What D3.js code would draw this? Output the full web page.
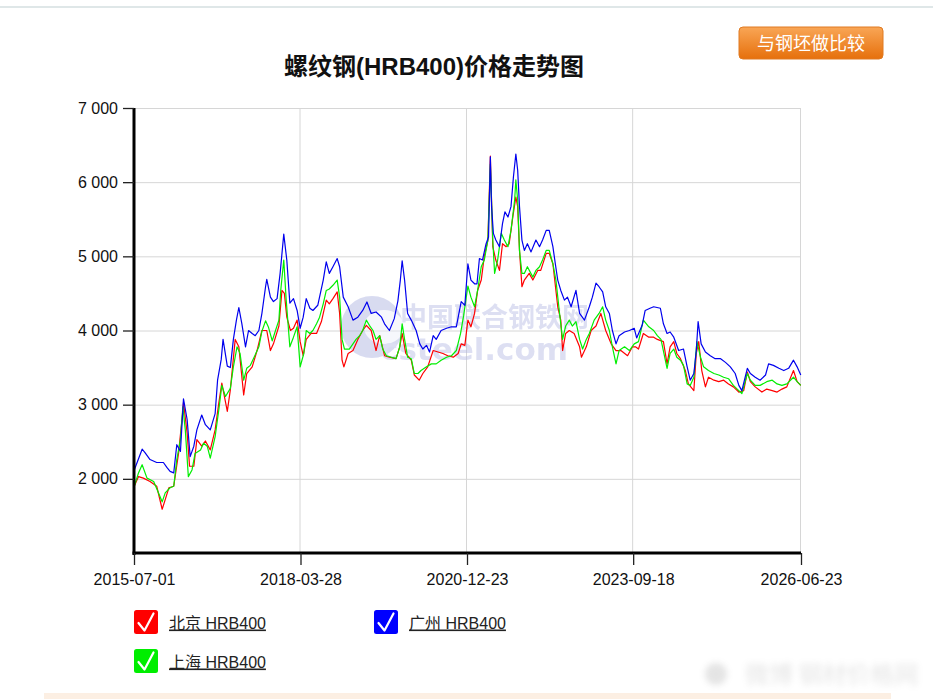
<!DOCTYPE html>
<html>
<head>
<meta charset="utf-8">
<script src="https://cdn.jsdelivr.net/npm/d3@7"></script>
<style>
  body { margin: 0; background: #fff; }
  svg text { font-family: "Liberation Sans", Arial, "Noto Sans CJK SC", sans-serif; }
</style>
</head>
<body>
<div id="chart"></div>
<script>
// ---- data (decimal year, price) ----
var beijing = [[2015.50,1900],[2015.57,2030],[2015.65,2010],[2015.76,1965],[2015.87,1900],[2015.96,1590],[2016.01,1720],[2016.07,1880],[2016.15,1900],[2016.23,2350],[2016.29,2840],[2016.31,3030],[2016.37,2620],[2016.41,2170],[2016.48,2170],[2016.53,2530],[2016.61,2440],[2016.67,2510],[2016.75,2390],[2016.83,2660],[2016.89,3020],[2016.94,3290],[2017.03,2910],[2017.08,3200],[2017.16,3880],[2017.22,3780],[2017.30,3130],[2017.35,3420],[2017.44,3510],[2017.52,3730],[2017.60,4000],[2017.68,4000],[2017.74,3730],[2017.79,3820],[2017.88,4060],[2017.93,4540],[2017.97,4500],[2018.01,4180],[2018.07,4000],[2018.12,4030],[2018.18,4140],[2018.23,3850],[2018.28,3660],[2018.33,3880],[2018.41,3960],[2018.50,3960],[2018.58,4120],[2018.66,4410],[2018.71,4360],[2018.77,4430],[2018.84,4520],[2018.88,4230],[2018.92,3600],[2018.95,3510],[2019.02,3690],[2019.10,3730],[2019.18,3880],[2019.26,4000],[2019.32,4070],[2019.40,4000],[2019.48,3730],[2019.54,3930],[2019.62,3660],[2019.70,3640],[2019.81,3620],[2019.87,3780],[2019.91,3960],[2019.97,3690],[2020.06,3600],[2020.11,3400],[2020.19,3330],[2020.25,3420],[2020.33,3510],[2020.42,3730],[2020.50,3710],[2020.58,3690],[2020.66,3660],[2020.75,3640],[2020.83,3690],[2020.88,3820],[2020.94,3800],[2020.99,4140],[2021.04,4050],[2021.10,4230],[2021.15,4540],[2021.21,4680],[2021.26,5000],[2021.32,5220],[2021.36,6350],[2021.40,5130],[2021.45,4950],[2021.51,4810],[2021.56,5170],[2021.62,5130],[2021.67,5170],[2021.73,5530],[2021.78,5800],[2021.81,5670],[2021.84,5080],[2021.88,4590],[2021.92,4680],[2022.00,4770],[2022.06,4680],[2022.14,4810],[2022.19,4810],[2022.28,5040],[2022.33,5040],[2022.39,4900],[2022.47,4320],[2022.52,4140],[2022.55,3730],[2022.60,3960],[2022.66,4000],[2022.74,3960],[2022.83,3780],[2022.86,3640],[2022.94,3780],[2023.02,4000],[2023.10,4060],[2023.18,4230],[2023.26,4000],[2023.35,3820],[2023.43,3730],[2023.51,3730],[2023.62,3660],[2023.70,3780],[2023.75,3780],[2023.80,3750],[2023.88,3960],[2023.97,3910],[2024.05,3910],[2024.11,3880],[2024.21,3850],[2024.27,3550],[2024.32,3780],[2024.38,3850],[2024.43,3690],[2024.49,3620],[2024.57,3460],[2024.62,3280],[2024.71,3190],[2024.75,3690],[2024.79,3850],[2024.84,3460],[2024.90,3240],[2024.95,3370],[2025.04,3330],[2025.12,3310],[2025.20,3330],[2025.28,3280],[2025.36,3240],[2025.45,3170],[2025.53,3190],[2025.59,3440],[2025.64,3310],[2025.72,3240],[2025.83,3170],[2025.91,3210],[2026.00,3190],[2026.08,3170],[2026.16,3210],[2026.24,3240],[2026.35,3460],[2026.41,3310],[2026.47,3260]];

var shanghai = [[2015.50,1900],[2015.57,2080],[2015.63,2190],[2015.71,2010],[2015.82,1965],[2015.90,1810],[2015.96,1690],[2016.01,1810],[2016.09,1880],[2016.15,1900],[2016.20,2260],[2016.26,2530],[2016.30,2970],[2016.34,2660],[2016.39,2030],[2016.45,2120],[2016.50,2340],[2016.59,2390],[2016.64,2480],[2016.70,2440],[2016.75,2280],[2016.83,2570],[2016.89,2930],[2016.94,3260],[2017.00,3110],[2017.08,3220],[2017.13,3510],[2017.19,3780],[2017.24,3690],[2017.30,3330],[2017.35,3490],[2017.41,3530],[2017.46,3620],[2017.55,3780],[2017.60,3990],[2017.66,4130],[2017.71,4040],[2017.77,3860],[2017.82,3990],[2017.88,4140],[2017.91,4540],[2017.96,4950],[2018.00,4410],[2018.06,3780],[2018.12,3910],[2018.18,4050],[2018.23,3510],[2018.29,3690],[2018.33,4000],[2018.39,3960],[2018.44,4000],[2018.50,4090],[2018.55,4180],[2018.61,4360],[2018.66,4540],[2018.71,4560],[2018.77,4610],[2018.84,4680],[2018.88,4450],[2018.92,3880],[2018.96,3750],[2019.04,3750],[2019.10,3820],[2019.15,3880],[2019.21,3930],[2019.26,4000],[2019.32,4140],[2019.37,4070],[2019.43,4000],[2019.48,3880],[2019.54,3930],[2019.59,3750],[2019.65,3660],[2019.73,3640],[2019.81,3620],[2019.87,3780],[2019.91,4090],[2019.95,3880],[2020.00,3640],[2020.06,3620],[2020.11,3420],[2020.17,3420],[2020.22,3460],[2020.31,3510],[2020.39,3550],[2020.47,3550],[2020.55,3600],[2020.64,3640],[2020.72,3660],[2020.80,3730],[2020.87,3960],[2020.92,4200],[2020.99,4600],[2021.04,4450],[2021.10,4320],[2021.15,4540],[2021.21,4860],[2021.26,4950],[2021.32,5220],[2021.36,6240],[2021.40,5220],[2021.43,4770],[2021.48,4950],[2021.54,5310],[2021.59,5220],[2021.65,5130],[2021.70,5350],[2021.76,5760],[2021.78,6030],[2021.81,5760],[2021.84,5080],[2021.88,4770],[2021.92,4770],[2021.97,4860],[2022.06,4720],[2022.11,4810],[2022.17,4860],[2022.22,4950],[2022.28,5080],[2022.33,5080],[2022.39,4900],[2022.44,4680],[2022.50,4230],[2022.55,3880],[2022.60,4060],[2022.66,4140],[2022.71,4060],[2022.77,4120],[2022.83,3880],[2022.88,3750],[2022.94,3880],[2022.99,3960],[2023.07,4140],[2023.15,4230],[2023.21,4320],[2023.26,4140],[2023.32,4000],[2023.37,3780],[2023.43,3550],[2023.48,3730],[2023.57,3780],[2023.65,3730],[2023.73,3820],[2023.80,3850],[2023.88,4140],[2023.97,4050],[2024.05,4000],[2024.11,3930],[2024.17,3880],[2024.27,3490],[2024.32,3690],[2024.38,3750],[2024.43,3640],[2024.49,3600],[2024.54,3530],[2024.60,3280],[2024.65,3260],[2024.71,3370],[2024.76,3850],[2024.82,3640],[2024.87,3510],[2024.95,3460],[2025.04,3420],[2025.12,3400],[2025.20,3370],[2025.28,3350],[2025.36,3260],[2025.45,3190],[2025.50,3150],[2025.59,3420],[2025.64,3330],[2025.72,3260],[2025.80,3260],[2025.91,3310],[2026.00,3330],[2026.08,3280],[2026.16,3260],[2026.24,3280],[2026.35,3370],[2026.41,3310],[2026.47,3260]];

var guangzhou = [[2015.50,2120],[2015.63,2400],[2015.68,2350],[2015.76,2260],[2015.87,2220],[2015.98,2220],[2016.04,2150],[2016.09,2100],[2016.15,2080],[2016.20,2460],[2016.26,2370],[2016.31,3080],[2016.37,2800],[2016.42,2300],[2016.48,2440],[2016.53,2660],[2016.61,2860],[2016.67,2730],[2016.75,2660],[2016.83,2880],[2016.87,3330],[2016.93,3610],[2016.96,3880],[2017.03,3520],[2017.08,3500],[2017.13,3880],[2017.18,4140],[2017.22,4310],[2017.27,4090],[2017.33,3780],[2017.38,4000],[2017.44,3960],[2017.49,3930],[2017.55,4000],[2017.60,4230],[2017.66,4590],[2017.68,4690],[2017.74,4450],[2017.79,4390],[2017.85,4430],[2017.90,4770],[2017.96,5300],[2018.01,4950],[2018.06,4370],[2018.12,4430],[2018.18,4270],[2018.23,4030],[2018.28,4180],[2018.33,4430],[2018.39,4300],[2018.44,4270],[2018.52,4340],[2018.61,4680],[2018.66,4925],[2018.71,4770],[2018.77,4860],[2018.84,4970],[2018.88,4860],[2018.94,4450],[2019.02,4320],[2019.10,4140],[2019.18,4180],[2019.26,4270],[2019.33,4385],[2019.40,4230],[2019.48,4250],[2019.57,4180],[2019.62,4090],[2019.70,4000],[2019.78,4160],[2019.84,4400],[2019.88,4680],[2019.91,4940],[2019.95,4680],[2020.00,4230],[2020.06,4140],[2020.14,4000],[2020.20,3820],[2020.25,3750],[2020.31,3800],[2020.36,3710],[2020.42,3930],[2020.47,3880],[2020.55,4000],[2020.64,4030],[2020.72,4050],[2020.80,4050],[2020.88,4390],[2020.94,4340],[2020.99,4900],[2021.04,4680],[2021.10,4630],[2021.14,4630],[2021.18,4970],[2021.23,4950],[2021.29,5170],[2021.33,5260],[2021.36,6340],[2021.38,5670],[2021.41,5310],[2021.45,5220],[2021.51,5130],[2021.56,5440],[2021.60,5600],[2021.65,5530],[2021.70,5670],[2021.74,6070],[2021.78,6380],[2021.81,6160],[2021.84,5670],[2021.88,5220],[2021.92,5080],[2021.97,5170],[2022.03,5060],[2022.11,5220],[2022.17,5130],[2022.22,5220],[2022.28,5350],[2022.33,5350],[2022.39,5130],[2022.43,4900],[2022.47,4680],[2022.52,4540],[2022.58,4410],[2022.63,4450],[2022.69,4320],[2022.77,4540],[2022.83,4230],[2022.91,4140],[2022.99,4320],[2023.04,4450],[2023.10,4640],[2023.15,4590],[2023.21,4520],[2023.26,4320],[2023.32,4230],[2023.37,4000],[2023.43,3820],[2023.48,3930],[2023.57,3980],[2023.65,4000],[2023.73,4030],[2023.77,3900],[2023.86,4070],[2023.91,4270],[2023.99,4300],[2024.05,4320],[2024.16,4300],[2024.21,4090],[2024.27,3960],[2024.32,3980],[2024.38,3910],[2024.46,3730],[2024.54,3750],[2024.60,3510],[2024.65,3330],[2024.71,3420],[2024.75,3730],[2024.78,4120],[2024.83,3820],[2024.90,3710],[2024.98,3660],[2025.06,3620],[2025.15,3620],[2025.23,3570],[2025.31,3510],[2025.39,3420],[2025.45,3260],[2025.50,3190],[2025.59,3490],[2025.64,3420],[2025.72,3370],[2025.80,3330],[2025.89,3400],[2025.94,3550],[2026.02,3530],[2026.11,3490],[2026.19,3460],[2026.27,3490],[2026.35,3600],[2026.41,3510],[2026.47,3400]];

var xTickLabels = ["2015-07-01", "2018-03-28", "2020-12-23", "2023-09-18", "2026-06-23"];
var yTicks = [2000, 3000, 4000, 5000, 6000, 7000];
var seriesNames = ["北京 HRB400", "广州 HRB400", "上海 HRB400"];
var seriesColors = ["#ff0000", "#0000ff", "#00ee00"];

// ---- helpers ----
function toDate(y) {
  var yr = Math.floor(y);
  var a = Date.UTC(yr, 0, 1), b = Date.UTC(yr + 1, 0, 1);
  return new Date(a + (y - yr) * (b - a));
}
var parseDay = d3.utcParse("%Y-%m-%d");
var tickDates = xTickLabels.map(parseDay);

var svgWidth = 933, svgHeight = 699;
var margin = {top: 108, right: 132, bottom: 146, left: 134};
var width = svgWidth - margin.left - margin.right;   // 667
var height = svgHeight - margin.top - margin.bottom; // 445

var svg = d3.select("#chart").append("svg")
  .attr("width", svgWidth)
  .attr("height", svgHeight);

var defs = svg.append("defs");
var grad = defs.append("linearGradient").attr("id", "btnGrad")
  .attr("x1", 0).attr("y1", 0).attr("x2", 0).attr("y2", 1);
grad.append("stop").attr("offset", "0%").attr("stop-color", "#f9a656");
grad.append("stop").attr("offset", "100%").attr("stop-color", "#e6700c");
defs.append("filter").attr("id", "blur").append("feGaussianBlur").attr("stdDeviation", 3);

// top rule + bottom band
svg.append("rect").attr("x", 0).attr("y", 6).attr("width", svgWidth).attr("height", 2).attr("fill", "#dfe7e8");
svg.append("rect").attr("x", 44).attr("y", 693).attr("width", 847).attr("height", 6).attr("fill", "#fcefe3");

// title
svg.append("text")
  .attr("x", 434).attr("y", 75)
  .attr("text-anchor", "middle")
  .style("font-size", "24px").style("font-weight", "bold").attr("fill", "#111")
  .text("螺纹钢(HRB400)价格走势图");

// button
svg.append("rect").attr("x", 739).attr("y", 27).attr("width", 144).attr("height", 32).attr("rx", 4)
  .attr("fill", "url(#btnGrad)").attr("stroke", "#e07a22").attr("stroke-width", 1);
svg.append("text").attr("x", 811).attr("y", 50).attr("text-anchor", "middle")
  .style("font-family", "'Noto Sans CJK SC', sans-serif")
  .style("font-size", "18px").attr("fill", "#fff").text("与钢坯做比较");

var chartGroup = svg.append("g")
  .attr("transform", `translate(${margin.left}, ${margin.top})`);

// scales
var xScale = d3.scaleUtc().domain([tickDates[0], tickDates[tickDates.length - 1]]).range([0, width]);
var yScale = d3.scaleLinear().domain([1000, 7000]).range([height, 0]);
var fmtY = d3.formatLocale({thousands: " ", grouping: [3], decimal: "."}).format(",");

// grid
chartGroup.append("g").selectAll("line").data(yTicks).enter().append("line")
  .attr("x1", 0).attr("x2", width)
  .attr("y1", d => yScale(d) + 0.5).attr("y2", d => yScale(d) + 0.5)
  .attr("stroke", "#d6d6d6");
chartGroup.append("g").selectAll("line").data(tickDates.slice(1)).enter().append("line")
  .attr("x1", d => xScale(d) - 0.5).attr("x2", d => xScale(d) - 0.5)
  .attr("y1", 0).attr("y2", height)
  .attr("stroke", "#d6d6d6");

// watermark
var wm = chartGroup.append("g").attr("opacity", 0.45);
wm.append("circle").attr("cx", 238).attr("cy", 219).attr("r", 31).attr("fill", "#aab0e0");
wm.append("ellipse").attr("cx", 250).attr("cy", 219).attr("rx", 20).attr("ry", 17).attr("fill", "#eceefa");
wm.append("text").attr("x", 266).attr("y", 219)
  .style("font-family", "'Noto Sans CJK SC', sans-serif").style("font-size", "27px").style("font-weight", "bold")
  .attr("fill", "#b4b9e4").text("中国联合钢铁网");
wm.append("text").attr("x", 246).attr("y", 252)
  .style("font-family", "'DejaVu Sans', sans-serif").style("font-size", "31px").style("font-weight", "bold")
  .attr("fill", "#b4b9e4").text("csteel.com");

// lines
var line = d3.line()
  .x(d => xScale(toDate(d[0])))
  .y(d => yScale(d[1]));
[beijing, shanghai, guangzhou].forEach((s, i) => {
  chartGroup.append("path").datum(s)
    .attr("fill", "none")
    .attr("stroke", ["#ff0000", "#00ee00", "#0000ee"][i])
    .attr("stroke-width", 1.2)
    .attr("stroke-linejoin", "round")
    .attr("d", line);
});

// axes
var leftAxis = d3.axisLeft(yScale).tickValues(yTicks).tickSize(11).tickSizeOuter(0).tickPadding(5).tickFormat(fmtY);
var bottomAxis = d3.axisBottom(xScale).tickValues(tickDates).tickSize(12).tickSizeOuter(0).tickPadding(9)
  .tickFormat(d3.utcFormat("%Y-%m-%d"));

var gy = chartGroup.append("g").call(leftAxis);
var gx = chartGroup.append("g").attr("transform", `translate(0, ${height})`).call(bottomAxis);
[gx, gy].forEach(g => {
  g.select(".domain").attr("stroke", "#000").attr("stroke-width", 3);
  g.selectAll(".tick line").attr("stroke", "#222").attr("stroke-width", 1.3);
  g.selectAll(".tick text").attr("fill", "#111")
    .style("font-family", "'Liberation Sans', Arial, sans-serif").style("font-size", "16px");
});
gy.select(".domain").attr("d", `M0,0V${height + 2}`);
gx.select(".domain").attr("d", `M-1.5,0H${width}`);

// legend
var legendPos = [[134, 610], [374, 610], [134, 649]];
seriesNames.forEach((name, i) => {
  var g = svg.append("g").attr("transform", `translate(${legendPos[i][0]}, ${legendPos[i][1]})`);
  g.append("rect").attr("width", 24).attr("height", 24).attr("rx", 2.5).attr("fill", seriesColors[i]);
  g.append("path").attr("d", "M4.5,13 L10.5,20.5 L19.5,3.5")
    .attr("fill", "none").attr("stroke", "#fff").attr("stroke-width", 2.2)
    .attr("stroke-linecap", "round").attr("stroke-linejoin", "round");
  g.append("text").attr("x", 35).attr("y", 18.5)
    .style("font-size", "16px").style("text-decoration", "underline")
    .attr("fill", "#222").text(name);
});

// faint blurred stamp, bottom right
var stamp = svg.append("g").attr("filter", "url(#blur)").attr("opacity", 0.22);
stamp.append("circle").attr("cx", 716).attr("cy", 674).attr("r", 11).attr("fill", "#888");
stamp.append("text").attr("x", 745).attr("y", 683)
  .style("font-family", "'Noto Sans CJK SC', sans-serif").style("font-size", "24px")
  .attr("fill", "#888").text("微博 钢材价格网");
</script>
</body>
</html>
